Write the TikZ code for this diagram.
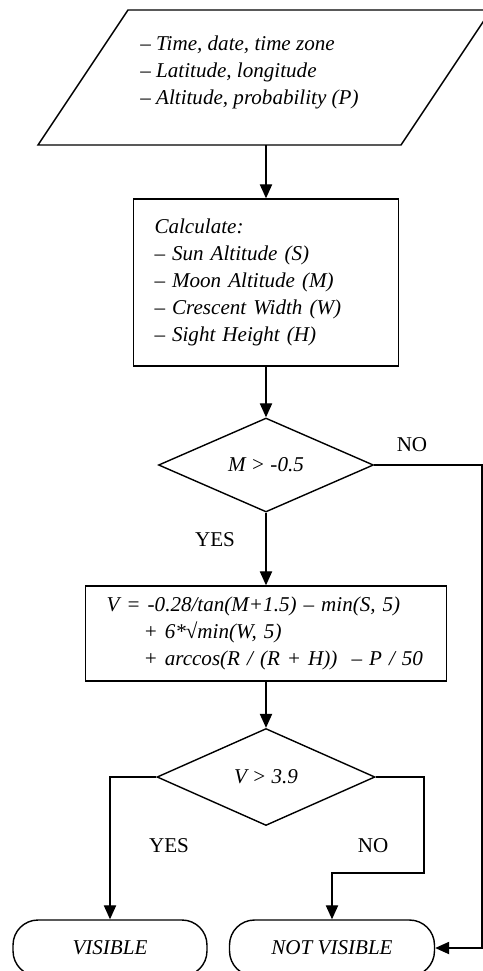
\documentclass[tikz,border=0pt]{standalone}
\usepackage{fontspec}
\setmainfont{Liberation Serif}
\usetikzlibrary{shapes.geometric,arrows.meta}

\tikzstyle{process} = [draw,line width=0.8pt,rectangle,align=left,inner xsep=0.42cm,font=\itshape\fontsize{12}{15.4}\selectfont]
\tikzstyle{decision} = [draw,line width=0.8pt,diamond,inner sep=0pt,font=\itshape\fontsize{12}{15.4}\selectfont]
\tikzstyle{terminal} = [draw,line width=0.8pt,rectangle,rounded corners=0.5cm,minimum height=1.12cm,font=\itshape\fontsize{12}{15.4}\selectfont]
\tikzstyle{flow} = [line width=0.8pt,-{Triangle[length=8pt,width=7pt]}]
\tikzstyle{answer} = [font=\fontsize{12}{15.4}\selectfont]

\begin{document}
\begin{tikzpicture}[x=0.02cm,y=-0.02cm]
	\useasboundingbox (0,0) rectangle (483,971);

	% input data
	\draw[line width=0.8pt] (128,10) -- (491,10) -- (401,145) -- (38,145) -- cycle;
	\node[align=left,anchor=west,inner sep=0pt,font=\itshape\fontsize{12}{15.4}\selectfont] (input) at (140,72.5)
		{-- Time, date, time zone\\-- Latitude, longitude\\-- Altitude, probability (P)};
	\coordinate (inout) at (266,145);

	\node[process,text width=4.46cm,minimum height=3.34cm] (calc) at (266,282.5)
		{Calculate:\\-- Sun Altitude (S)\\-- Moon Altitude (M)\\-- Crescent Width (W)\\-- Sight Height (H)};
	\node[decision,minimum width=4.3cm,minimum height=1.88cm] (test1) at (266,465) {M > -0.5};
	\node[process,text width=6.38cm,minimum height=1.9cm] (formula) at (266,633.5)
		{V = -0.28/tan(M+1.5) -- min(S, 5)\\
		\hspace*{0.74cm}+ 6*√min(W, 5)\\
		\hspace*{0.74cm}+ arccos(R / (R + H))\ \ -- P / 50};
	\node[decision,minimum width=4.36cm,minimum height=1.94cm] (test2) at (266,777) {V > 3.9};

	\node[terminal,minimum width=3.88cm] (vis) at (110,948) {VISIBLE};
	\node[terminal,minimum width=4.1cm] (notvis) at (332,948) {NOT VISIBLE};

	\node[answer] (yes1) at (215,540) {YES};
	\node[answer] (no1) at (412,445) {NO};
	\node[answer] (yes2) at (169,846) {YES};
	\node[answer] (no2) at (373,846) {NO};

	\coordinate (bend1) at (482,948);
	\coordinate (bend2) at (424,873);

	\draw[flow] (inout) -- (calc.north);
	\draw[flow] (calc) -- (test1);
	\draw[flow] (test1) -- (formula);
	\draw[flow] (test1.east) -| (bend1) -- (notvis.east);
	\draw[flow] (formula) -- (test2);
	\draw[flow] (test2.west) -| (vis.north);
	\draw[flow] (test2.east) -| (bend2) -| (notvis.north);
\end{tikzpicture}
\end{document}
